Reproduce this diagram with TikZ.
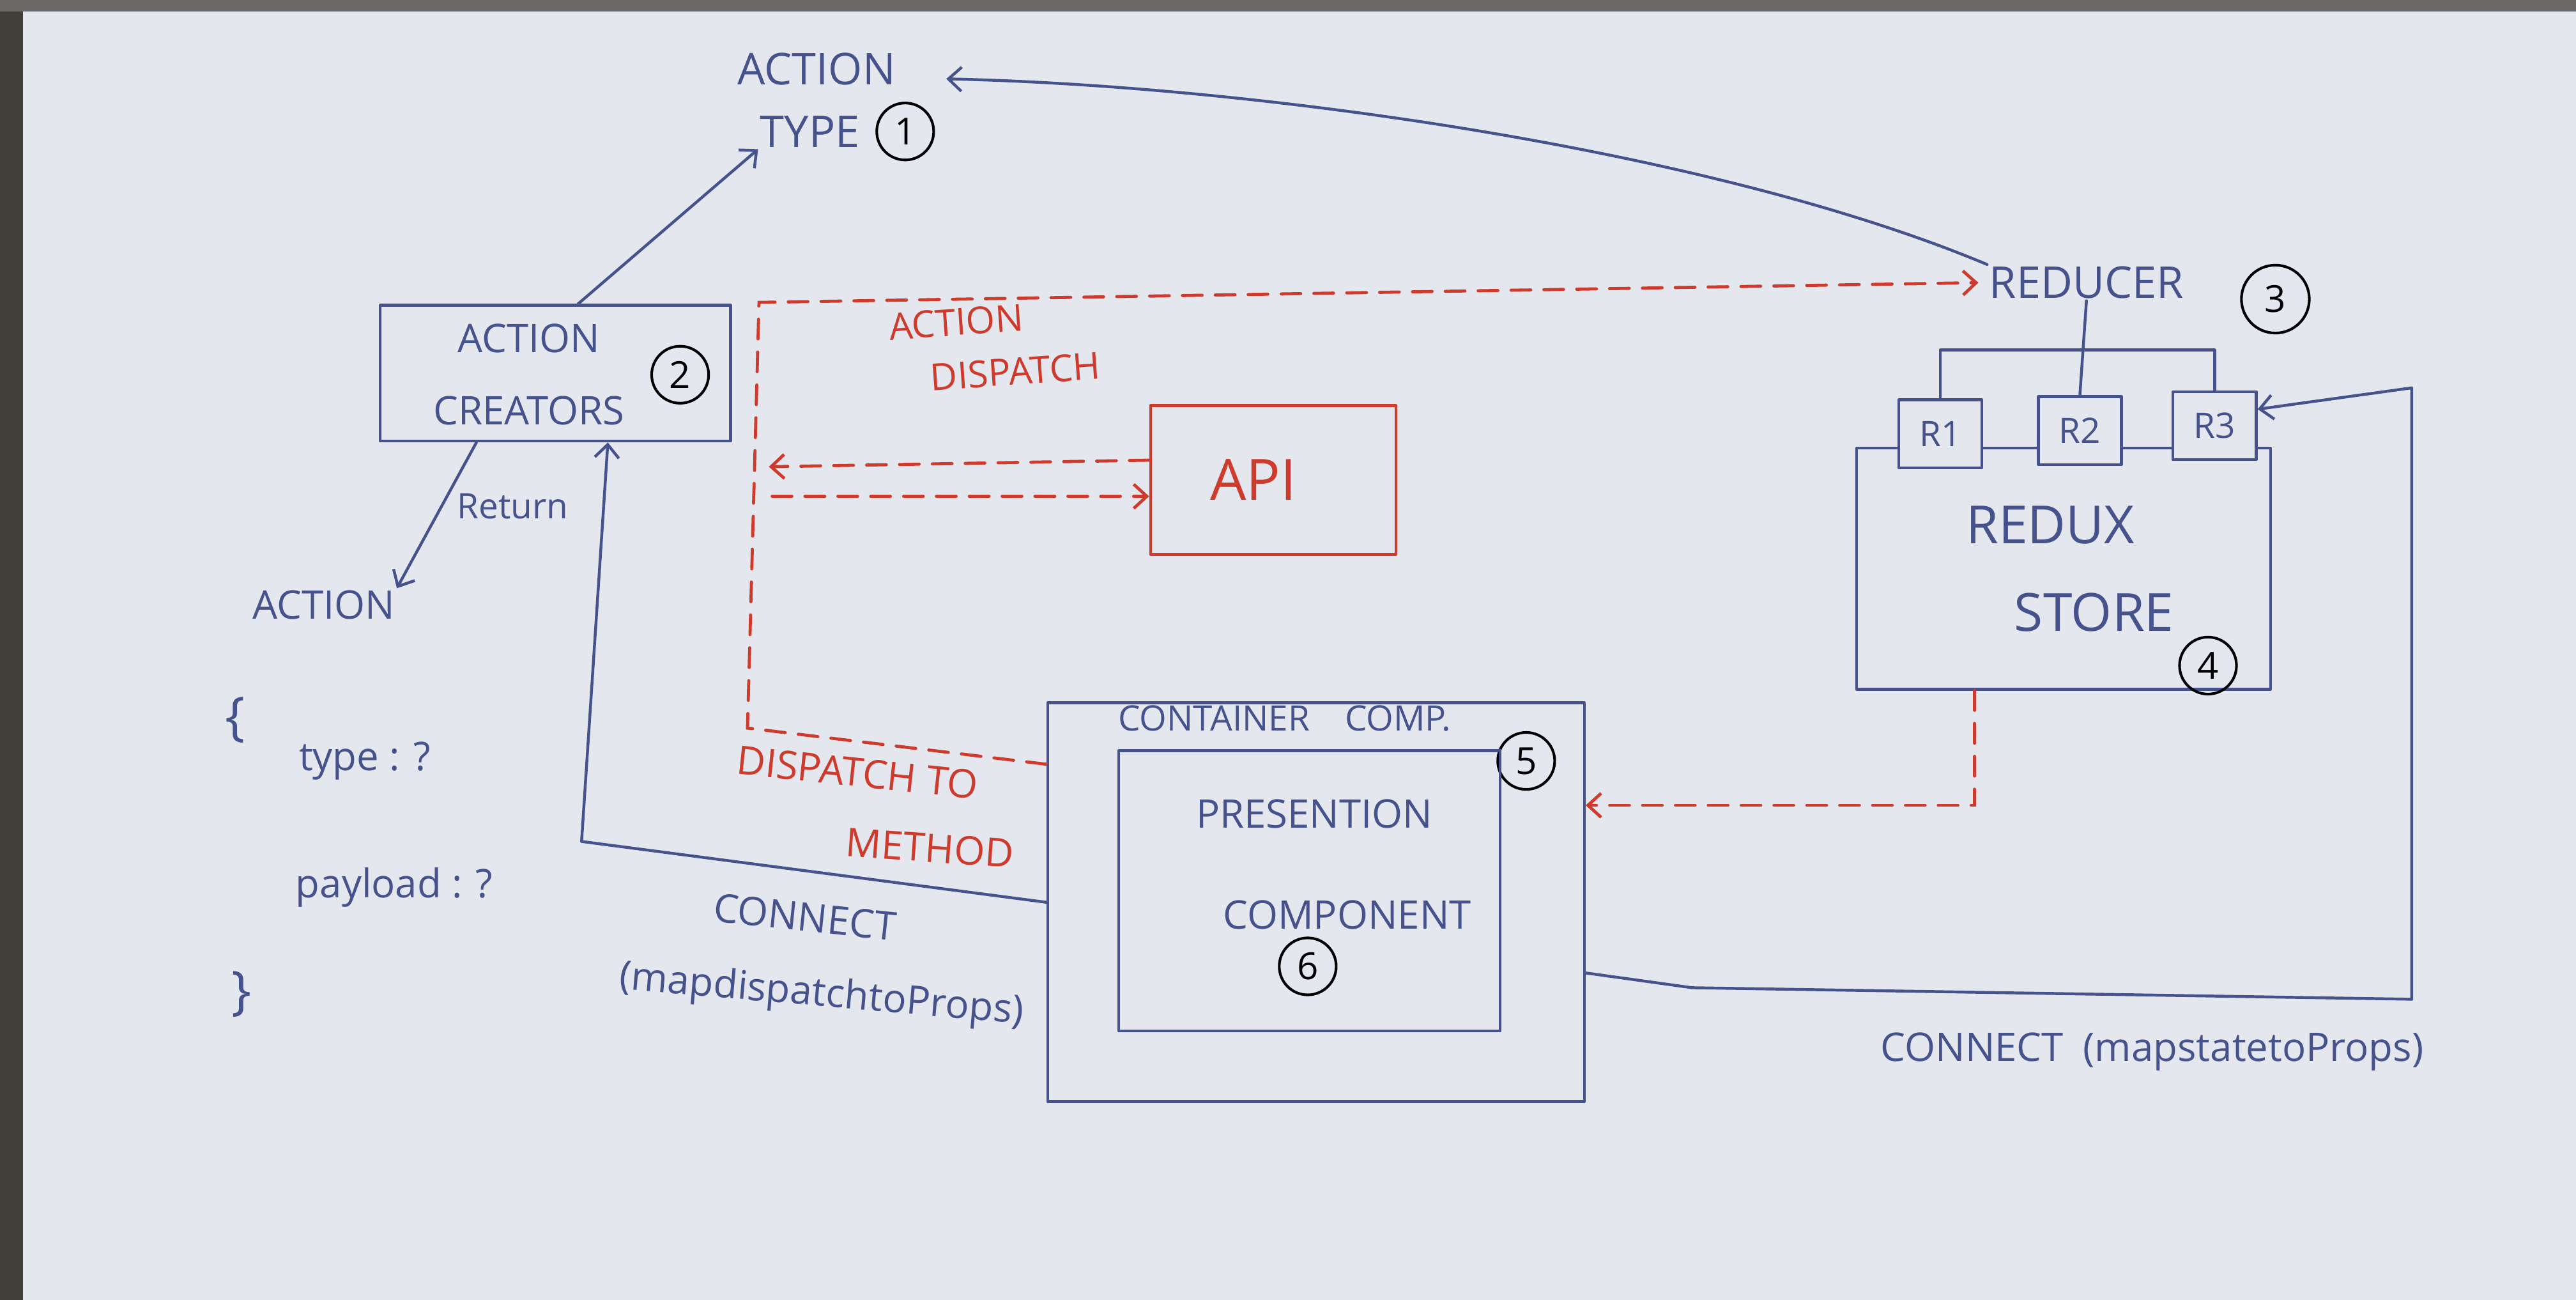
\documentclass[tikz,border=0pt]{standalone}
\usepackage{fontspec}
\setmainfont{Open Sans}
\usetikzlibrary{arrows.meta,positioning}

\definecolor{board}{RGB}{228,231,238}
\definecolor{markblue}{RGB}{70,82,140}
\definecolor{markred}{RGB}{206,58,44}
\definecolor{boardframe}{RGB}{66,62,58}

\tikzset{
  pen/.style={draw=markblue, line width=1.3pt, line cap=round, line join=round},
  redpen/.style={draw=markred, line width=1.4pt, dash pattern=on 9pt off 6pt, line cap=round},
  tip/.style={-{Straight Barb[length=6pt,width=11pt]}},
  hand/.style={text=markblue, inner sep=0.75pt, align=center, font=\fontsize{18}{33}\selectfont},
  redhand/.style={hand, text=markred},
  box/.style={pen, inner sep=0pt},
  rbox/.style={pen, fill=board, minimum width=38pt, minimum height=31pt, inner sep=0pt, font=\fontsize{16}{16}\selectfont, text=markblue},
  num/.style={draw=black, circle, line width=1.2pt, minimum size=26pt, inner sep=0pt, font=\fontsize{17}{17}\selectfont},
}

\begin{document}
\begin{tikzpicture}[x=0.75pt,y=0.75pt,yscale=-1,xscale=1]
%board
\fill[board] (0,0) rectangle (1568,791);
\fill[boardframe] (0,0) rectangle (14,791);
\fill[boardframe!75!board] (0,0) rectangle (1568,7);
\useasboundingbox (0,0) rectangle (1568,791);

% Action type
\node[hand, font=\fontsize{20}{20}\selectfont] (acttxt) at (497,42) {ACTION};
\node[hand, font=\fontsize{20}{20}\selectfont] (typetxt) at (493,80) {TYPE};
\node[num] (n1) at (551,80) {1};
\coordinate (typein) at (576,48);

% Action creators
\node[box, minimum width=160pt, minimum height=62pt] (creators) at (338,227) {};
\node[hand] (crtxt) at (322,228) {ACTION\\CREATORS};
\node[num] (n2) at (414,228) {2};

% Action object
\node[hand] (actlbl) at (197,368) {ACTION};
\node[hand, font=\fontsize{24}{24}\selectfont] (lbrace) at (143,438) {\{};
\node[hand] (typeq) at (222,463) {type : ?};
\node[hand] (payq) at (240,540) {payload : ?};
\node[hand, font=\fontsize{24}{24}\selectfont] (rbrace) at (147,605) {\}};
\node[hand, font=\fontsize{16}{16}\selectfont] (retlbl) at (312,308) {Return};

% Api
\node[box, draw=markred, minimum width=112pt, minimum height=68pt] (api) at (775,292) {};
\node[redhand, font=\fontsize{26}{26}\selectfont] (apitxt) at (763,292) {API};
\coordinate (vline1) at (468,284);
\coordinate (vline2) at (470,302);
\node[redhand, rotate=4, font=\fontsize{17}{17}\selectfont] (disp1) at (582,196) {ACTION};
\node[redhand, rotate=4, font=\fontsize{17}{17}\selectfont] (disp2) at (618,226) {DISPATCH};
\node[redhand, rotate=-6] (meth1) at (522,470) {DISPATCH TO};
\node[redhand, rotate=-4] (meth2) at (566,516) {METHOD};

% Reducer and store
\node[hand, font=\fontsize{20}{20}\selectfont] (reducer) at (1270,172) {REDUCER};
\node[num, minimum size=31pt] (n3) at (1385,182) {3};
\node[box, minimum width=189pt, minimum height=110pt] (store) at (1256,346) {};
\node[rbox] (r1) at (1181,264) {R1};
\node[rbox] (r2) at (1266,262) {R2};
\node[rbox] (r3) at (1348,259) {R3};
\node[hand, font=\fontsize{24}{40}\selectfont] (storetxt) at (1248,346) {REDUX\\\hspace*{40pt}STORE};
\node[num] (n4) at (1344,405) {4};

% Components
\node[box, minimum width=245pt, minimum height=182pt] (container) at (801,549) {};
\node[hand, font=\fontsize{16}{16}\selectfont] (conttxt) at (782,437) {CONTAINER\quad COMP.};
\node[num] (n5) at (929,463) {5};
\node[box, minimum width=174pt, minimum height=128pt] (present) at (797,542) {};
\node[hand, font=\fontsize{18}{46}\selectfont] (prestxt) at (800,526) {PRESENTION\\\hspace*{30pt}COMPONENT};
\node[num] (n6) at (796,588) {6};

% connect labels
\node[hand, rotate=-6] (conn1) at (490,558) {CONNECT};
\node[hand, rotate=-5] (conn1b) at (500,606) {(mapdispatchtoProps)};
\node[hand] (conn2) at (1310,640) {CONNECT\enspace(mapstatetoProps)};

% Connectors
\draw[pen,tip] (creators.north -| 352,0) -- (typetxt.south west);
\draw[pen,tip] (reducer.north west) .. controls (1040,90) and (760,52) .. (typein);
\draw[pen,tip] (creators.south -| 290,0) -- (actlbl.north east);
\draw[pen,tip] (container.west) -- (354,512) -- (creators.south -| 370,0);
\draw[pen] (reducer.south) -- (r2.north);
\draw[pen] (r1.north) -- (r1.north |- 0,213) -- (r3.north |- 0,213) -- (r3.north);
\draw[pen,tip] (container.east |- 0,592) -- (1030,601) -- (1468,608) -- (1468,236) -- (r3.east |- 0,249);

\draw[redpen,tip] (container.west |- 0,465) -- (455,443) -- (462,184) -- ([xshift=-4pt]reducer.west);
\draw[redpen,tip] (api.west |- 0,280) -- (vline1);
\draw[redpen,tip] (vline2) -- (api.west |- 0,302);
\draw[redpen,tip] (store.south -| 1202,0) |- (container.east |- 0,490);

\end{tikzpicture}
\end{document}
